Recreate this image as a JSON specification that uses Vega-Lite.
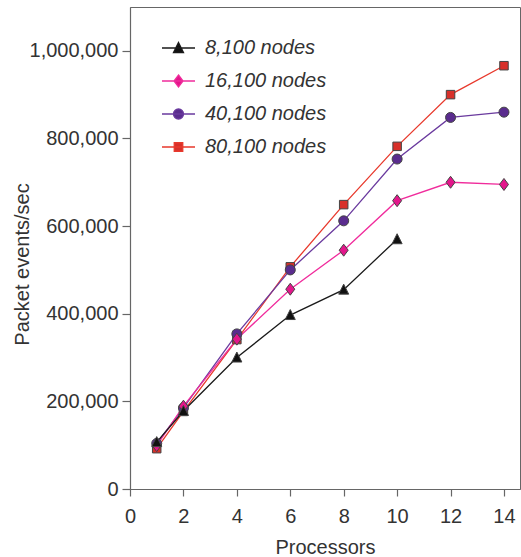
{
  "$schema": "https://vega.github.io/schema/vega-lite/v6.json",
  "width": 390,
  "height": 482,
  "autosize": "none",
  "padding": {"left": 130, "top": 7, "right": 1, "bottom": 68},
  "config": {
    "view": {"stroke": "#666666", "strokeWidth": 1},
    "font": "Liberation Sans"
  },
  "data": {
    "values": [
      {"series": "80,100 nodes", "processors": 1, "events": 92000},
      {"series": "80,100 nodes", "processors": 2, "events": 177000},
      {"series": "80,100 nodes", "processors": 4, "events": 341000},
      {"series": "80,100 nodes", "processors": 6, "events": 507000},
      {"series": "80,100 nodes", "processors": 8, "events": 649000},
      {"series": "80,100 nodes", "processors": 10, "events": 782000},
      {"series": "80,100 nodes", "processors": 12, "events": 900000},
      {"series": "80,100 nodes", "processors": 14, "events": 966000},
      {"series": "40,100 nodes", "processors": 1, "events": 104000},
      {"series": "40,100 nodes", "processors": 2, "events": 185000},
      {"series": "40,100 nodes", "processors": 4, "events": 354000},
      {"series": "40,100 nodes", "processors": 6, "events": 500000},
      {"series": "40,100 nodes", "processors": 8, "events": 612000},
      {"series": "40,100 nodes", "processors": 10, "events": 753000},
      {"series": "40,100 nodes", "processors": 12, "events": 848000},
      {"series": "40,100 nodes", "processors": 14, "events": 860000},
      {"series": "16,100 nodes", "processors": 1, "events": 99000},
      {"series": "16,100 nodes", "processors": 2, "events": 189000},
      {"series": "16,100 nodes", "processors": 4, "events": 342000},
      {"series": "16,100 nodes", "processors": 6, "events": 456000},
      {"series": "16,100 nodes", "processors": 8, "events": 545000},
      {"series": "16,100 nodes", "processors": 10, "events": 658000},
      {"series": "16,100 nodes", "processors": 12, "events": 700000},
      {"series": "16,100 nodes", "processors": 14, "events": 695000},
      {"series": "8,100 nodes", "processors": 1, "events": 107000},
      {"series": "8,100 nodes", "processors": 2, "events": 178000},
      {"series": "8,100 nodes", "processors": 4, "events": 300000},
      {"series": "8,100 nodes", "processors": 6, "events": 397000},
      {"series": "8,100 nodes", "processors": 8, "events": 455000},
      {"series": "8,100 nodes", "processors": 10, "events": 570000}
    ]
  },
  "encoding": {
    "x": {
      "field": "processors",
      "type": "quantitative",
      "scale": {"domain": [0, 14.6], "nice": false, "zero": false},
      "axis": {
        "values": [0, 2, 4, 6, 8, 10, 12, 14],
        "grid": false,
        "tickSize": 7,
        "labelPadding": 26,
        "labelBaseline": "alphabetic",
        "labelFlush": false,
        "labelFontSize": 20,
        "labelColor": "#333333",
        "domainColor": "#666666",
        "domainWidth": 1.2,
        "tickColor": "#666666",
        "tickWidth": 1.2,
        "title": "Processors",
        "titleFontSize": 20,
        "titleFontWeight": "normal",
        "titleColor": "#333333",
        "titleBaseline": "alphabetic",
        "titleY": 64
      }
    },
    "y": {
      "field": "events",
      "type": "quantitative",
      "scale": {"domain": [0, 1100000], "nice": false},
      "axis": {
        "values": [0, 200000, 400000, 600000, 800000, 1000000],
        "format": ",d",
        "grid": false,
        "tickSize": 8,
        "labelPadding": 4,
        "labelFlush": false,
        "labelFontSize": 20,
        "labelColor": "#333333",
        "domainColor": "#666666",
        "domainWidth": 1.2,
        "tickColor": "#666666",
        "tickWidth": 1.2,
        "title": "Packet events/sec",
        "titleFontSize": 20,
        "titleFontWeight": "normal",
        "titleColor": "#333333",
        "titleBaseline": "alphabetic",
        "titleAlign": "center",
        "titleX": -102,
        "titleY": 257
      }
    }
  },
  "layer": [
    {
      "mark": {"type": "line", "strokeWidth": 1.3},
      "encoding": {
        "stroke": {
          "field": "series",
          "type": "nominal",
          "scale": {
            "domain": ["8,100 nodes", "16,100 nodes", "40,100 nodes", "80,100 nodes"],
            "range": ["#1a1a1a", "#f02c9c", "#6a3a9e", "#e8392c"]
          },
          "legend": null
        }
      }
    },
    {
      "mark": {"type": "point", "filled": true, "opacity": 1, "stroke": "#444444", "strokeWidth": 1},
      "encoding": {
        "fill": {
          "field": "series",
          "type": "nominal",
          "scale": {
            "domain": ["8,100 nodes", "16,100 nodes", "40,100 nodes", "80,100 nodes"],
            "range": ["#111111", "#e3168b", "#5a2c8e", "#d8302a"]
          },
          "legend": null
        },
        "shape": {
          "field": "series",
          "type": "nominal",
          "scale": {
            "domain": ["8,100 nodes", "16,100 nodes", "40,100 nodes", "80,100 nodes"],
            "range": [
              "M0,-1.1L1,0.9L-1,0.9Z",
              "M0,-1.2L0.9,0L0,1.2L-0.9,0Z",
              "circle",
              "M-0.85,-0.85H0.85V0.85H-0.85Z"
            ]
          },
          "legend": null
        },
        "size": {"value": 100}
      }
    },
    {
      "mark": {"type": "point", "filled": true, "opacity": 0},
      "encoding": {
        "fill": {
          "field": "series",
          "type": "nominal",
          "legend": {
            "title": null, "orient": "none", "legendX": 38.5, "legendY": 31,
            "padding": 0, "symbolSize": 100, "symbolStrokeWidth": 1.3, "symbolOpacity": 1,
            "symbolOffset": 0, "labelOffset": 16.5, "rowPadding": 13,
            "labelFontSize": 20, "labelFontStyle": "italic", "labelColor": "#333333",
            "labelFont": "Liberation Sans"
          }
        },
        "stroke": {
          "field": "series",
          "type": "nominal",
          "legend": {
            "title": null, "orient": "none", "legendX": 38.5, "legendY": 31,
            "padding": 0, "symbolSize": 100, "symbolStrokeWidth": 1.3, "symbolOpacity": 1,
            "symbolOffset": 0, "labelOffset": 16.5, "rowPadding": 13,
            "labelFontSize": 20, "labelFontStyle": "italic", "labelColor": "#333333",
            "labelFont": "Liberation Sans"
          }
        },
        "shape": {
          "field": "series",
          "type": "nominal",
          "scale": {
            "domain": ["8,100 nodes", "16,100 nodes", "40,100 nodes", "80,100 nodes"],
            "range": [
              "M-3.3,0H3.3M0,-1.1L1,0.9L-1,0.9Z",
              "M-3.3,0H3.3M0,-1.2L0.9,0L0,1.2L-0.9,0Z",
              "M-3.3,0H3.3M1,0A1,1,0,1,1,-1,0A1,1,0,1,1,1,0Z",
              "M-3.3,0H3.3M-0.85,-0.85H0.85V0.85H-0.85Z"
            ]
          },
          "legend": {
            "title": null, "orient": "none", "legendX": 38.5, "legendY": 31,
            "padding": 0, "symbolSize": 100, "symbolStrokeWidth": 1.3, "symbolOpacity": 1,
            "symbolOffset": 0, "labelOffset": 16.5, "rowPadding": 13,
            "labelFontSize": 20, "labelFontStyle": "italic", "labelColor": "#333333",
            "labelFont": "Liberation Sans"
          }
        },
        "size": {"value": 100}
      }
    }
  ],
  "resolve": {
    "scale": {"shape": "independent"},
    "legend": {"fill": "independent", "stroke": "independent", "shape": "independent"}
  }
}
